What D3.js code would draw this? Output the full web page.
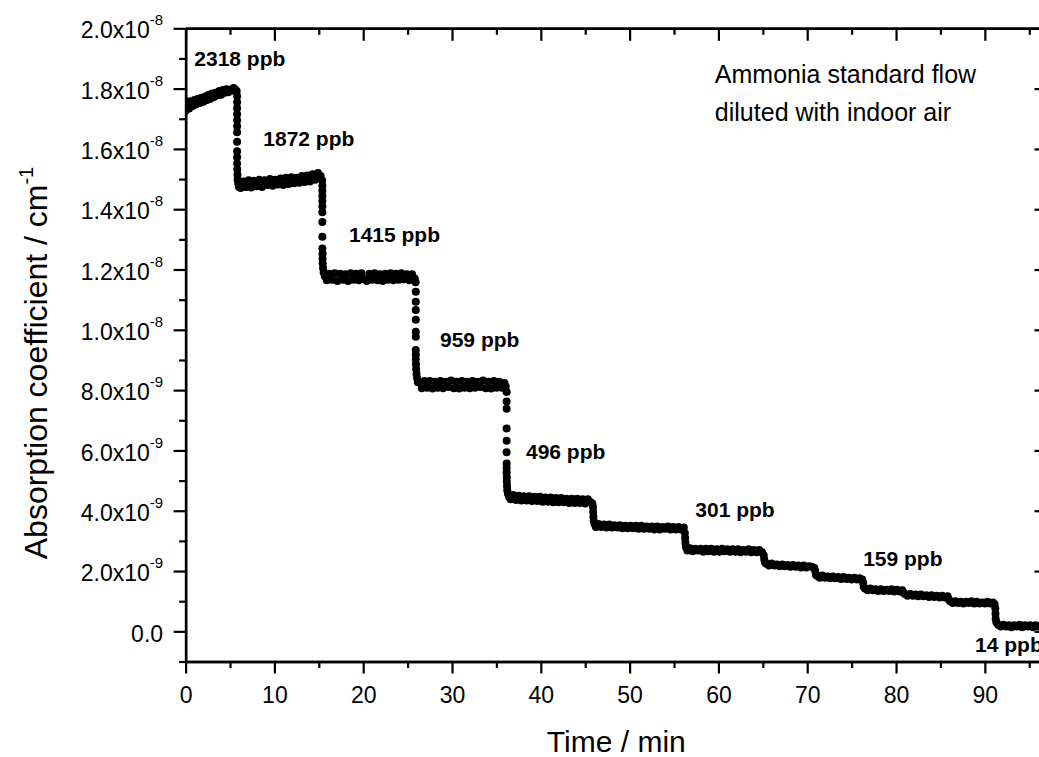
<!DOCTYPE html>
<html>
<head>
<meta charset="utf-8">
<script src="https://cdn.jsdelivr.net/npm/d3@7"></script>
<style>
  body { margin: 0; background: #fff; }
  svg { display: block; font-family: "Liberation Sans", Arial, sans-serif; }
</style>
</head>
<body>
<div id="plot-viz"><svg></svg></div>
<script>
// measured time in minutes
const timeMin = [
  0.0, 0.0, 0.2, 0.4, 0.6, 0.8, 1.0, 1.2, 1.4, 1.6, 1.8, 2.0, 2.2, 2.4, 2.6, 2.8, 3.0, 3.2, 3.4, 3.6, 3.8, 4.0, 4.2, 4.4, 4.6, 4.8, 5.0, 5.2, 5.4, 5.6, 5.75,
  5.80, 5.80, 5.80, 5.80, 5.80, 5.80, 5.80, 5.80, 5.80, 5.80, 5.80, 5.82, 5.84, 5.86, 5.92, 6.02,
  6.2, 6.5, 6.8, 7.1, 7.4, 7.7, 8.0, 8.3, 8.6, 8.9, 9.2, 9.5, 9.8, 10.1, 10.4, 10.7, 11.0, 11.3, 11.6, 11.9, 12.2, 12.5, 12.8, 13.1, 13.4, 13.7, 14.0, 14.3, 14.6, 14.9, 15.2,
  15.38, 15.40, 15.40, 15.40, 15.40, 15.40, 15.40, 15.40, 15.40, 15.40, 15.42, 15.42, 15.44, 15.48, 15.55, 15.68,
  15.9, 16.2, 16.5, 16.8, 17.1, 17.4, 17.7, 18.0, 18.3, 18.6, 18.9, 19.2, 19.5, 19.8, 20.1, 20.4, 20.7, 21.0, 21.3, 21.6, 21.9, 22.2, 22.5, 22.8, 23.1, 23.4, 23.7, 24.0, 24.3, 24.6, 24.9, 25.2, 25.5, 25.8,
  25.90, 25.92, 25.92, 25.92, 25.92, 25.92, 25.92, 25.92, 25.92, 25.92, 25.94, 25.96, 26.00, 26.06, 26.15,
  26.3, 26.6, 26.9, 27.2, 27.5, 27.8, 28.1, 28.4, 28.7, 29.0, 29.3, 29.6, 29.9, 30.2, 30.5, 30.8, 31.1, 31.4, 31.7, 32.0, 32.3, 32.6, 32.9, 33.2, 33.5, 33.8, 34.1, 34.4, 34.7, 35.0, 35.3, 35.6, 35.9, 36.05,
  36.15, 36.15, 36.15, 36.15, 36.15, 36.15, 36.15, 36.15, 36.15, 36.17, 36.17, 36.19, 36.22, 36.30, 36.42,
  36.6, 36.9, 37.2, 37.5, 37.8, 38.1, 38.4, 38.7, 39.0, 39.3, 39.6, 39.9, 40.2, 40.5, 40.8, 41.1, 41.4, 41.7, 42.0, 42.3, 42.6, 42.9, 43.2, 43.5, 43.8, 44.1, 44.4, 44.7, 45.0, 45.3, 45.6, 45.8,
  45.88, 45.90, 45.92, 45.96, 46.05,
  46.2, 46.5, 46.8, 47.1, 47.4, 47.7, 48.0, 48.3, 48.6, 48.9, 49.2, 49.5, 49.8, 50.1, 50.4, 50.7, 51.0, 51.3, 51.6, 51.9, 52.2, 52.5, 52.8, 53.1, 53.4, 53.7, 54.0, 54.3, 54.6, 54.9, 55.2, 55.5, 55.8, 56.1,
  56.22, 56.25, 56.28, 56.34,
  56.5, 56.8, 57.1, 57.4, 57.7, 58.0, 58.3, 58.6, 58.9, 59.2, 59.5, 59.8, 60.1, 60.4, 60.7, 61.0, 61.3, 61.6, 61.9, 62.2, 62.5, 62.8, 63.1, 63.4, 63.7, 64.0, 64.3, 64.6, 64.9,
  65.10, 65.16, 65.25,
  65.4, 65.7, 66.0, 66.3, 66.6, 66.9, 67.2, 67.5, 67.8, 68.1, 68.4, 68.7, 69.0, 69.3, 69.6, 69.9, 70.2, 70.5, 70.8,
  70.90, 70.98,
  71.1, 71.4, 71.7, 72.0, 72.3, 72.6, 72.9, 73.2, 73.5, 73.8, 74.1, 74.4, 74.7, 75.0, 75.3, 75.6, 75.9, 76.2,
  76.30, 76.36,
  76.5, 76.8, 77.1, 77.4, 77.7, 78.0, 78.3, 78.6, 78.9, 79.2, 79.5, 79.8, 80.1, 80.4, 80.7,
  80.85,
  81.0, 81.3, 81.6, 81.9, 82.2, 82.5, 82.8, 83.1, 83.4, 83.7, 84.0, 84.3, 84.6, 84.9, 85.2, 85.5, 85.8,
  85.95,
  86.1, 86.4, 86.7, 87.0, 87.3, 87.6, 87.9, 88.2, 88.5, 88.8, 89.1, 89.4, 89.7, 90.0, 90.3, 90.6, 90.9, 91.1,
  91.18, 91.20, 91.22, 91.30,
  91.5, 91.8, 92.1, 92.4, 92.7, 93.0, 93.3, 93.6, 93.9, 94.2, 94.5, 94.8, 95.1, 95.4, 95.7, 96.0, 96.3, 96.6, 96.9
];

// absorption coefficient, in units of 1e-9 cm^-1
const absCoef = [
  17.26, 17.60, 17.45, 17.34, 17.58, 17.42, 17.62, 17.48, 17.66, 17.52, 17.70, 17.56, 17.74, 17.62, 17.80, 17.66, 17.84, 17.72, 17.86, 17.78, 17.92, 17.80, 17.95, 17.86, 17.98, 17.88, 17.96, 17.93, 18.02, 17.97, 17.92,
  17.75, 17.55, 17.35, 17.15, 16.95, 16.75, 16.55, 16.24, 15.92, 15.72, 15.52, 15.32, 15.14, 14.98, 14.85, 14.74,
  14.70, 14.92, 14.74, 14.96, 14.72, 14.94, 14.76, 14.98, 14.74, 14.96, 14.80, 15.00, 14.78, 14.98, 14.82, 15.02, 14.80, 15.04, 14.84, 15.06, 14.86, 15.04, 14.88, 15.10, 14.90, 15.12, 14.92, 15.16, 14.98, 15.20, 15.10,
  14.95, 14.78, 14.61, 14.44, 14.27, 14.10, 13.90, 13.58, 13.09, 12.70, 12.52, 12.36, 12.20, 12.04, 11.90, 11.78,
  11.64, 11.86, 11.66, 11.88, 11.62, 11.86, 11.66, 11.84, 11.62, 11.88, 11.66, 11.86, 11.64, 11.88, 11.68, 11.62, 11.86, 11.66, 11.88, 11.64, 11.84, 11.62, 11.86, 11.66, 11.88, 11.64, 11.86, 11.66, 11.88, 11.68, 11.84, 11.64, 11.84, 11.70,
  11.58, 11.26, 10.93, 10.66, 10.33, 9.94, 9.77, 9.33, 9.18, 9.02, 8.86, 8.70, 8.54, 8.40, 8.26,
  8.28, 8.06, 8.30, 8.08, 8.30, 8.05, 8.28, 8.08, 8.30, 8.06, 8.28, 8.10, 8.32, 8.06, 8.28, 8.05, 8.30, 8.08, 8.28, 8.06, 8.30, 8.08, 8.28, 8.10, 8.32, 8.06, 8.28, 8.05, 8.30, 8.08, 8.28, 8.08, 8.24, 8.12,
  7.94, 7.62, 7.38, 6.73, 6.32, 5.94, 5.57, 5.42, 5.27, 5.12, 4.97, 4.82, 4.68, 4.56, 4.46,
  4.38, 4.52, 4.36, 4.50, 4.34, 4.48, 4.34, 4.48, 4.32, 4.46, 4.32, 4.46, 4.30, 4.44, 4.30, 4.44, 4.28, 4.42, 4.28, 4.42, 4.28, 4.40, 4.26, 4.40, 4.26, 4.40, 4.26, 4.38, 4.24, 4.38, 4.28, 4.24,
  4.12, 3.96, 3.80, 3.66, 3.56,
  3.46, 3.56, 3.46, 3.54, 3.44, 3.54, 3.44, 3.52, 3.44, 3.52, 3.42, 3.50, 3.42, 3.50, 3.42, 3.50, 3.40, 3.50, 3.40, 3.48, 3.40, 3.48, 3.38, 3.48, 3.38, 3.46, 3.40, 3.48, 3.38, 3.46, 3.38, 3.46, 3.38, 3.44,
  3.26, 3.10, 2.94, 2.80,
  2.68, 2.76, 2.66, 2.74, 2.68, 2.74, 2.64, 2.74, 2.66, 2.74, 2.64, 2.72, 2.64, 2.74, 2.66, 2.72, 2.64, 2.72, 2.64, 2.72, 2.62, 2.70, 2.64, 2.72, 2.62, 2.70, 2.62, 2.70, 2.62,
  2.52, 2.38, 2.28,
  2.24, 2.18, 2.25, 2.18, 2.22, 2.16, 2.22, 2.16, 2.20, 2.14, 2.20, 2.14, 2.18, 2.12, 2.18, 2.12, 2.16, 2.14, 2.10,
  2.00, 1.88,
  1.84, 1.78, 1.85, 1.78, 1.82, 1.76, 1.82, 1.76, 1.80, 1.74, 1.80, 1.74, 1.78, 1.72, 1.78, 1.72, 1.76, 1.72,
  1.60, 1.48,
  1.42, 1.36, 1.42, 1.36, 1.40, 1.34, 1.40, 1.34, 1.38, 1.34, 1.40, 1.32, 1.38, 1.32, 1.36,
  1.28,
  1.24, 1.18, 1.24, 1.18, 1.22, 1.16, 1.22, 1.16, 1.20, 1.14, 1.20, 1.14, 1.18, 1.12, 1.18, 1.12, 1.16,
  1.06,
  1.00, 0.94, 1.00, 0.94, 0.98, 0.92, 0.98, 0.94, 1.00, 0.92, 0.98, 0.92, 0.96, 0.92, 0.98, 0.92, 0.96, 0.90,
  0.76, 0.58, 0.42, 0.30,
  0.22, 0.16, 0.22, 0.16, 0.20, 0.14, 0.20, 0.16, 0.22, 0.14, 0.20, 0.16, 0.20, 0.14, 0.20, 0.16, 0.20, 0.14, 0.18
];

// concentration labels for each step
const concLabels = ["2318 ppb", "1872 ppb", "1415 ppb", "959 ppb", "496 ppb", "301 ppb", "159 ppb", "14 ppb"];
const concLabelTime = [0.98, 8.75, 18.4, 28.65, 38.33, 57.4, 76.3, 88.9];
const concLabelAbs = [18.75, 16.1, 12.92, 9.42, 5.70, 3.80, 2.17, -0.69];

// axis ticks
const xTicks = [0, 10, 20, 30, 40, 50, 60, 70, 80, 90];
const xMinorTicks = [5, 15, 25, 35, 45, 55, 65, 75, 85, 95];
const yTicks = [0, 2, 4, 6, 8, 10, 12, 14, 16, 18, 20];
const yMinorTicks = [-1, 1, 3, 5, 7, 9, 11, 13, 15, 17, 19];
const yTickMantissa = ["0.0", "2.0x10", "4.0x10", "6.0x10", "8.0x10", "1.0x10", "1.2x10", "1.4x10", "1.6x10", "1.8x10", "2.0x10"];
const yTickExponent = ["", "-9", "-9", "-9", "-9", "-8", "-8", "-8", "-8", "-8", "-8"];

const noteLines = ["Ammonia standard flow", "diluted with indoor air"];

buildVisualization();

function buildVisualization() {
  const svgSize = { width: 1039, height: 757 };
  const plot = { left: 185.6, right: 1047, top: 28.3, bottom: 661.5 };

  const x = d3.scaleLinear().domain([0, 97]).range([plot.left, plot.right]);
  const y = d3.scaleLinear().domain([-1, 20]).range([plot.bottom, plot.top]);

  const svg = d3.select("#plot-viz").select("svg")
    .attr("width", svgSize.width)
    .attr("height", svgSize.height);

  svg.append("defs").append("clipPath").attr("id", "plot-clip")
    .append("rect")
    .attr("x", plot.left).attr("y", plot.top)
    .attr("width", plot.right - plot.left).attr("height", plot.bottom - plot.top);

  // data points
  const data = timeMin.map((t, i) => ({ t: t, v: absCoef[i] }));
  svg.append("g").attr("clip-path", "url(#plot-clip)")
    .selectAll(".dot")
    .data(data)
    .enter()
    .append("circle")
    .attr("class", "dot")
    .attr("r", 4)
    .attr("cx", d => x(d.t))
    .attr("cy", d => y(d.v))
    .attr("fill", "black");

  // bottom axis
  const gx = svg.append("g")
    .attr("transform", "translate(0," + plot.bottom + ")")
    .call(d3.axisBottom(x).tickValues(xTicks).tickSize(12).tickSizeOuter(0).tickPadding(13.5));
  svg.append("g")
    .attr("transform", "translate(0," + plot.bottom + ")")
    .call(d3.axisBottom(x).tickValues(xMinorTicks).tickSize(6.5).tickSizeOuter(0).tickFormat(""));
  gx.selectAll(".tick text").style("font-size", "23px");

  // top axis, ticks inside
  svg.append("g")
    .attr("transform", "translate(0," + plot.top + ")")
    .call(d3.axisTop(x).tickValues(xTicks).tickSize(-12.5).tickSizeOuter(0).tickFormat(""));
  svg.append("g")
    .attr("transform", "translate(0," + plot.top + ")")
    .call(d3.axisTop(x).tickValues(xMinorTicks).tickSize(-6.5).tickSizeOuter(0).tickFormat(""));

  // left axis
  const gy = svg.append("g")
    .attr("transform", "translate(" + plot.left + ",0)")
    .call(d3.axisLeft(y).tickValues(yTicks).tickSize(12).tickSizeOuter(0).tickPadding(10.5)
      .tickFormat((d, i) => yTickMantissa[i]));
  svg.append("g")
    .attr("transform", "translate(" + plot.left + ",0)")
    .call(d3.axisLeft(y).tickValues(yMinorTicks).tickSize(6.5).tickSizeOuter(0).tickFormat(""));
  gy.selectAll(".tick text")
    .style("font-size", "23px")
    .attr("dy", "0.42em")
    .each(function (d, i) {
      if (!yTickExponent[i]) return;
      d3.select(this).append("tspan")
        .attr("dy", -13)
        .style("font-size", "15px")
        .text(yTickExponent[i]);
    });

  // right axis, ticks inside
  svg.append("g")
    .attr("transform", "translate(" + plot.right + ",0)")
    .call(d3.axisRight(y).tickValues(yTicks).tickSize(-12.5).tickSizeOuter(0).tickFormat(""));
  svg.append("g")
    .attr("transform", "translate(" + plot.right + ",0)")
    .call(d3.axisRight(y).tickValues(yMinorTicks).tickSize(-6.5).tickSizeOuter(0).tickFormat(""));

  svg.selectAll(".domain").attr("stroke-width", 2.4);
  svg.selectAll(".tick line").attr("stroke-width", 2.2);
  svg.selectAll(".tick text").attr("fill", "black");

  // axis titles
  svg.append("text")
    .attr("x", (plot.left + plot.right) / 2)
    .attr("y", 752)
    .attr("text-anchor", "middle")
    .style("font-size", "30px")
    .text("Time / min");

  const yTitle = svg.append("text")
    .attr("transform", "translate(47,363) rotate(-90)")
    .attr("text-anchor", "middle")
    .style("font-size", "32px");
  yTitle.append("tspan").text("Absorption coefficient / cm");
  yTitle.append("tspan").attr("dy", -14).style("font-size", "20px").text("-1");

  // concentration annotations
  svg.append("g").selectAll(".conc")
    .data(concLabels)
    .enter()
    .append("text")
    .attr("class", "conc")
    .attr("x", (d, i) => x(concLabelTime[i]))
    .attr("y", (d, i) => y(concLabelAbs[i]))
    .style("font-size", "21px")
    .style("font-weight", "bold")
    .text(d => d);

  // note
  svg.append("g").selectAll(".note")
    .data(noteLines)
    .enter()
    .append("text")
    .attr("class", "note")
    .attr("x", x(59.6))
    .attr("y", (d, i) => y(18.18 - i * 1.27))
    .style("font-size", "25px")
    .text(d => d);
}
</script>
</body>
</html>
